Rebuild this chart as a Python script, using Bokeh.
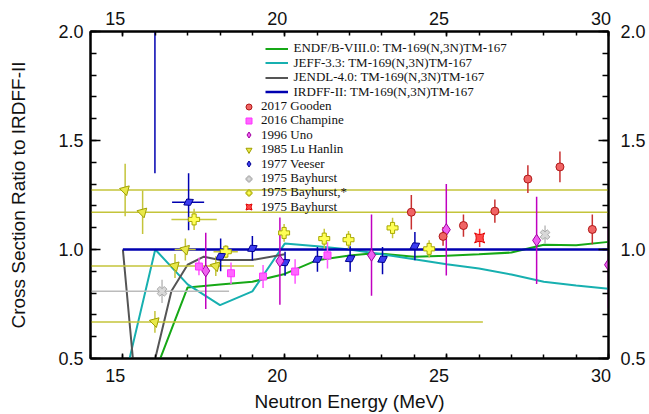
from bokeh.plotting import figure
from bokeh.models import (Range1d, LinearAxis, FixedTicker, PrintfTickFormatter,
                          Legend, LegendItem)
from bokeh.embed import file_html
from bokeh.resources import INLINE

# ---------------- evaluated curves (ratio to IRDFF-II) ----------------
endf_e = [16.0, 17.0, 18.0, 19.0, 20.0, 21.0, 22.0, 22.5, 23.0, 24.0, 25.0, 26.0, 27.0, 28.0, 29.0, 30.0]
endf_r = [0.44, 0.826, 0.84, 0.852, 0.888, 0.951, 0.972, 0.979, 0.98, 0.967, 0.971, 0.978, 0.986, 1.022, 1.02, 1.035]

jeff_e = [15.0, 16.0, 17.0, 18.0, 19.0, 20.0, 21.0, 22.0, 23.0, 24.0, 25.0, 26.0, 27.0, 28.0, 29.0, 30.0]
jeff_r = [0.37, 1.0, 0.84, 0.745, 0.808, 1.027, 1.015, 1.0, 0.978, 0.955, 0.932, 0.913, 0.885, 0.852, 0.835, 0.82]

jendl_e = [15.0, 15.5, 16.5, 17.0, 17.5, 18.0, 19.0, 20.0]
jendl_r = [1.0, 0.19, 0.81, 0.93, 0.967, 0.952, 0.952, 0.978]

irdff_e = [15.0, 20.0, 25.0, 30.0]
irdff_r = [1.0, 1.0, 1.0, 1.0]

# ---------------- experimental data ----------------
gooden_e = [23.91, 24.89, 25.52, 26.49, 27.51, 28.50, 29.50]
gooden_r = [1.171, 1.060, 1.110, 1.176, 1.323, 1.379, 1.092]
gooden_dr = [0.079, 0.043, 0.051, 0.053, 0.064, 0.071, 0.068]

champine_e = [17.35, 18.34, 19.33, 20.32, 21.32]
champine_r = [0.922, 0.891, 0.876, 0.899, 0.973]
champine_dr = [0.04, 0.049, 0.053, 0.056, 0.06]

uno_e = [17.56, 19.85, 22.68, 24.99, 27.78, 30.0]
uno_r = [0.902, 0.947, 0.974, 1.091, 1.042, 0.93]
uno_dr = [0.175, 0.2, 0.186, 0.21, 0.2, 0.2]

lu_e = [15.07, 15.61, 16.61, 15.99, 16.93, 17.87]
lu_r = [1.273, 1.171, 0.924, 0.668, 1.0, 0.924]
lu_dr = [0.12, 0.1, 0.055, 0.05, 0.05, 0.045]
lu_e_lo = [0.0, 0.0, 13.9, 5.88, 16.6, 17.65]
lu_e_hi = [31.0, 31.0, 19.05, 26.12, 17.25, 18.1]

veeser_e = [15.99, 17.03, 18.02, 19.0, 20.01, 21.01, 22.02, 23.02, 24.02]
veeser_r = [2.5, 1.217, 0.968, 1.005, 0.94, 0.955, 0.958, 0.955, 1.016]
veeser_r_lo = [1.35, 1.088, 0.9, 0.951, 0.88, 0.898, 0.898, 0.886, 0.951]
veeser_r_hi = [3.65, 1.35, 1.05, 1.062, 0.99, 1.012, 1.015, 1.012, 1.08]
veeser_e_lo = [15.99, 16.52, 18.02, 19.0, 20.01, 21.01, 22.02, 23.02, 24.02]
veeser_e_hi = [15.99, 17.51, 18.02, 19.0, 20.01, 21.01, 22.02, 23.02, 24.02]

bay_e = [16.21, 28.04]
bay_r = [0.808, 1.068]
bay_dr = [0.053, 0.042]
bay_e_lo = [13.9, 27.95]
bay_e_hi = [18.28, 28.13]

baystar_e = [17.2, 18.18, 19.98, 21.22, 21.97, 23.33, 24.46]
baystar_r = [1.138, 0.99, 1.076, 1.05, 1.045, 1.099, 1.003]
baystar_dr = [0.049, 0.03, 0.041, 0.045, 0.04, 0.047, 0.04]
baystar_e_lo = [16.5, 17.8, 19.88, 21.12, 21.87, 23.23, 24.31]
baystar_e_hi = [17.9, 18.55, 20.08, 21.32, 22.07, 23.43, 24.61]

bayr_e = [26.02]
bayr_r = [1.053]
bayr_dr = [0.042]

x_major = [15, 20, 25, 30]
y_major = [0.5, 1.0, 1.5, 2.0]

# ---------------- figure ----------------
FRAME_H = 330
p = figure(width=649, height=414, output_backend="svg", toolbar_location=None,
           x_range=Range1d(14, 30), y_range=Range1d(0.5, 2.0),
           min_border_left=90, min_border_right=41, min_border_top=31, min_border_bottom=53,
           background_fill_color="white", border_fill_color="white")
p.xgrid.visible = False
p.ygrid.visible = False
p.outline_line_color = "black"
p.outline_line_width = 2

bottom = p.below[0]
left = p.left[0]
top = LinearAxis()
right = LinearAxis()
p.add_layout(top, "above")
p.add_layout(right, "right")

xt = FixedTicker(ticks=x_major, minor_ticks=list(range(14, 31)))
yt = FixedTicker(ticks=y_major, minor_ticks=[round(0.5 + 0.1 * i, 2) for i in range(16)])
nb = "\u00a0\u00a0\u00a0"
x_over = {v: f"{v}{nb}" for v in x_major}

for ax in [bottom, top]:
    ax.ticker = xt
    ax.major_label_overrides = x_over
    ax.major_tick_in = 5
    ax.major_tick_out = 0
    ax.minor_tick_in = 4
    ax.minor_tick_out = 0
for ax in [left, right]:
    ax.ticker = yt
    ax.formatter = PrintfTickFormatter(format="%.1f")
    ax.major_tick_in = 10
    ax.major_tick_out = 0
    ax.minor_tick_in = 6
    ax.minor_tick_out = 0
for ax in [bottom, top, left, right]:
    ax.axis_line_width = 2
    ax.axis_line_color = "black"
    ax.major_tick_line_width = 1.5
    ax.minor_tick_line_width = 1.5
    ax.major_tick_line_color = "black"
    ax.minor_tick_line_color = "black"
    ax.major_label_text_font = "Liberation Sans"
    ax.major_label_text_font_size = "18px"
    ax.major_label_text_color = "#111111"

bottom.major_label_standoff = 7
top.major_label_standoff = 3
left.major_label_standoff = 7
right.major_label_standoff = 12

for ax, lab, st in [(left, "Cross Section Ratio to IRDFF-II", 26),
                    (bottom, "Neutron Energy (MeV)", 2)]:
    ax.axis_label = lab
    ax.axis_label_text_font = "Liberation Sans"
    ax.axis_label_text_font_size = "19px"
    ax.axis_label_text_font_style = "normal"
    ax.axis_label_text_color = "#111111"
    ax.axis_label_standoff = st

# ---------------- curves ----------------
r_endf = p.line(endf_e, endf_r, line_color="#16a816", line_width=2)
r_jeff = p.line(jeff_e, jeff_r, line_color="#17b0b0", line_width=2)
r_jendl = p.line(jendl_e, jendl_r, line_color="#555555", line_width=2)
r_irdff = p.line(irdff_e, irdff_r, line_color="#0000b0", line_width=2.5)


def bars(e, lo, hi, color):
    p.segment(x0=e, y0=lo, x1=e, y1=hi, line_color=color, line_width=1.5)


def hbars(r, elo, ehi, color):
    p.segment(x0=elo, y0=r, x1=ehi, y1=r, line_color=color, line_width=1.5)


def lo_hi(r, dr):
    return [a - b for a, b in zip(r, dr)], [a + b for a, b in zip(r, dr)]


# error bars
hbars(lu_r, lu_e_lo, lu_e_hi, "#c4c43a")
bars(lu_e, *lo_hi(lu_r, lu_dr), "#c4c43a")
hbars(bay_r, bay_e_lo, bay_e_hi, "#bbbbbb")
bars(bay_e, *lo_hi(bay_r, bay_dr), "#bbbbbb")
hbars(baystar_r, baystar_e_lo, baystar_e_hi, "#c8c83a")
bars(baystar_e, *lo_hi(baystar_r, baystar_dr), "#c8c83a")
hbars(veeser_r, veeser_e_lo, veeser_e_hi, "#0000b0")
bars(veeser_e, veeser_r_lo, veeser_r_hi, "#0000b0")
bars(uno_e, *lo_hi(uno_r, uno_dr), "#c000c0")
bars(champine_e, *lo_hi(champine_r, champine_dr), "#ff55ff")
bars(gooden_e, *lo_hi(gooden_r, gooden_dr), "#c83030")
bars(bayr_e, *lo_hi(bayr_r, bayr_dr), "#ff3030")

# markers
m_bay = p.scatter(bay_e, bay_r, marker="plus", size=10, angle=0.785,
                  fill_color="#d8d8d8", line_color="#aaaaaa", line_width=1)
m_lu = p.scatter(lu_e, lu_r, marker="inverted_triangle", size=10, angle=0.26,
                 fill_color="#e8e84a", line_color="#a0a000", line_width=1)
m_baystar = p.scatter(baystar_e, baystar_r, marker="plus", size=11,
                      fill_color="#ffff55", line_color="#a8a800", line_width=1)
m_veeser = p.scatter(veeser_e, veeser_r, marker="diamond", size=11, angle=-1.05,
                     fill_color="#3c3cf0", line_color="#000090", line_width=1)
m_uno = p.scatter(uno_e, uno_r, marker="diamond", size=12,
                  fill_color="#f060f0", line_color="#a000a0", line_width=1)
m_champ = p.scatter(champine_e, champine_r, marker="square", size=7,
                    fill_color="#ff66ff", line_color="#ff33ff", line_width=1)
m_gooden = p.scatter(gooden_e, gooden_r, marker="circle", size=8,
                     fill_color="#f06464", line_color="#b01818", line_width=1)
m_bayr = p.scatter(bayr_e, bayr_r, marker="square_pin", size=10,
                   fill_color="#ff4a4a", line_color="#e00000", line_width=1)

# ---------------- legends (one row each, stacked) ----------------
ITEM_H = 15
STEP = 14.4
leg_style = dict(label_text_font="Liberation Serif", label_text_font_size="13px",
                 label_text_color="#111111", border_line_color=None,
                 background_fill_alpha=0, padding=0, margin=0, spacing=0,
                 glyph_height=ITEM_H, label_height=ITEM_H)

line_items = [("ENDF/B-VIII.0: TM-169(N,3N)TM-167", r_endf),
              ("JEFF-3.3: TM-169(N,3N)TM-167", r_jeff),
              ("JENDL-4.0: TM-169(N,3N)TM-167", r_jendl),
              ("IRDFF-II: TM-169(N,3N)TM-167", r_irdff)]
marker_items = [("2017 Gooden", m_gooden), ("2016 Champine", m_champ),
                ("1996 Uno", m_uno), ("1985 Lu Hanlin", m_lu),
                ("1977 Veeser", m_veeser), ("1975 Bayhurst", m_bay),
                ("1975 Bayhurst,*", m_baystar), ("1975 Bayhurst", m_bayr)]

first_line_center = 20.8   # px below the frame top
for i, (lab, rend) in enumerate(line_items):
    yc = first_line_center + i * STEP
    leg = Legend(items=[LegendItem(label=lab, renderers=[rend])],
                 location=(174.5, FRAME_H - yc - ITEM_H / 2),
                 glyph_width=23, label_standoff=6, **leg_style)
    p.add_layout(leg, "center")

first_marker_center = 78.5
for i, (lab, rend) in enumerate(marker_items):
    yc = first_marker_center + i * STEP
    leg = Legend(items=[LegendItem(label=lab, renderers=[rend])],
                 location=(150, FRAME_H - yc - ITEM_H / 2),
                 glyph_width=17, label_standoff=4, **leg_style)
    p.add_layout(leg, "center")

open("out.html", "w").write(file_html(p, INLINE))
